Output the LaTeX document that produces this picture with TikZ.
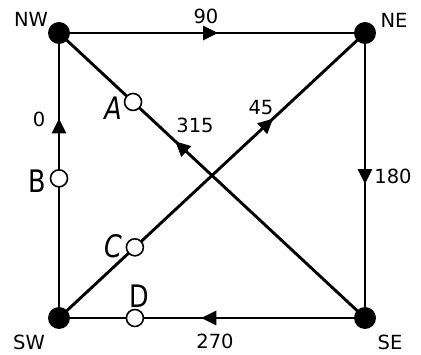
\documentclass[tikz,border=0pt]{standalone}
\usepackage{fontspec}
\setmainfont{DejaVu Sans}
\usetikzlibrary{arrows.meta,decorations.markings,calc}
\tikzset{
  edge/.style={line width=2.9pt},
  dot/.style={circle,fill=black,inner sep=0pt,minimum size=22pt},
  port/.style={circle,draw,fill=white,line width=1.6pt,inner sep=0pt,minimum size=17pt},
  arrowat/.style={postaction={decorate,decoration={markings,mark=at position #1 with {\arrow{Triangle[length=15pt,width=14pt]}}}}},
  num/.style={inner sep=0pt,font=\fontsize{19.5}{19.5}\selectfont},
  letter/.style={inner sep=0pt,font=\fontsize{31}{31}\selectfont,xscale=0.82},
}
\begin{document}
\begin{tikzpicture}[x=1pt,y=-1pt]
\useasboundingbox (0,0) rectangle (421,355);
\coordinate (nw) at (59,33);
\coordinate (ne) at (365,33);
\coordinate (sw) at (59,318);
\coordinate (se) at (365,318);
% edges
\draw[edge,arrowat=0.52] (nw) -- (ne);
\draw[edge,arrowat=0.53] (ne) -- (se);
\draw[edge,arrowat=0.535] (se) -- (sw);
\draw[edge,arrowat=0.70] (sw) -- (nw);
\draw[edge,arrowat=0.62] (se) -- (nw);
\draw[edge,arrowat=0.70] (sw) -- (ne);
% corner dots
\node[dot] (NW) at (nw) {};
\node[dot] (NE) at (ne) {};
\node[dot] (SW) at (sw) {};
\node[dot] (SE) at (se) {};
% open circles
\node[port] (A) at ($(nw)!0.242!(se)$) {};
\node[port] (B) at ($(sw)!0.49!(nw)$) {};
\node[port] (C) at ($(sw)!0.248!(ne)$) {};
\node[port] (D) at ($(sw)!0.248!(se)$) {};
% corner labels
\node[num] (lNW) at (31,19) {NW};
\node[num] (lNE) at (394,20) {NE};
\node[num] (lSW) at (29,342) {SW};
\node[num] (lSE) at (390,342) {SE};
% angle labels
\node[num] (l90) at (206,16) {90};
\node[num] (l0) at (39,119) {0};
\node[num] (l180) at (393,176) {180};
\node[num] (l270) at (215,341) {270};
\node[num] (l315) at (195,125) {315};
\node[num] (l45) at (261,108) {45};
% letters
\node[letter] (tA) at (113,108) {\itshape A};
\node[letter] (tB) at (37.5,181.5) {B};
\node[letter] (tC) at (113,246) {\itshape C};
\node[letter] (tD) at (139,296) {D};
\end{tikzpicture}
\end{document}
